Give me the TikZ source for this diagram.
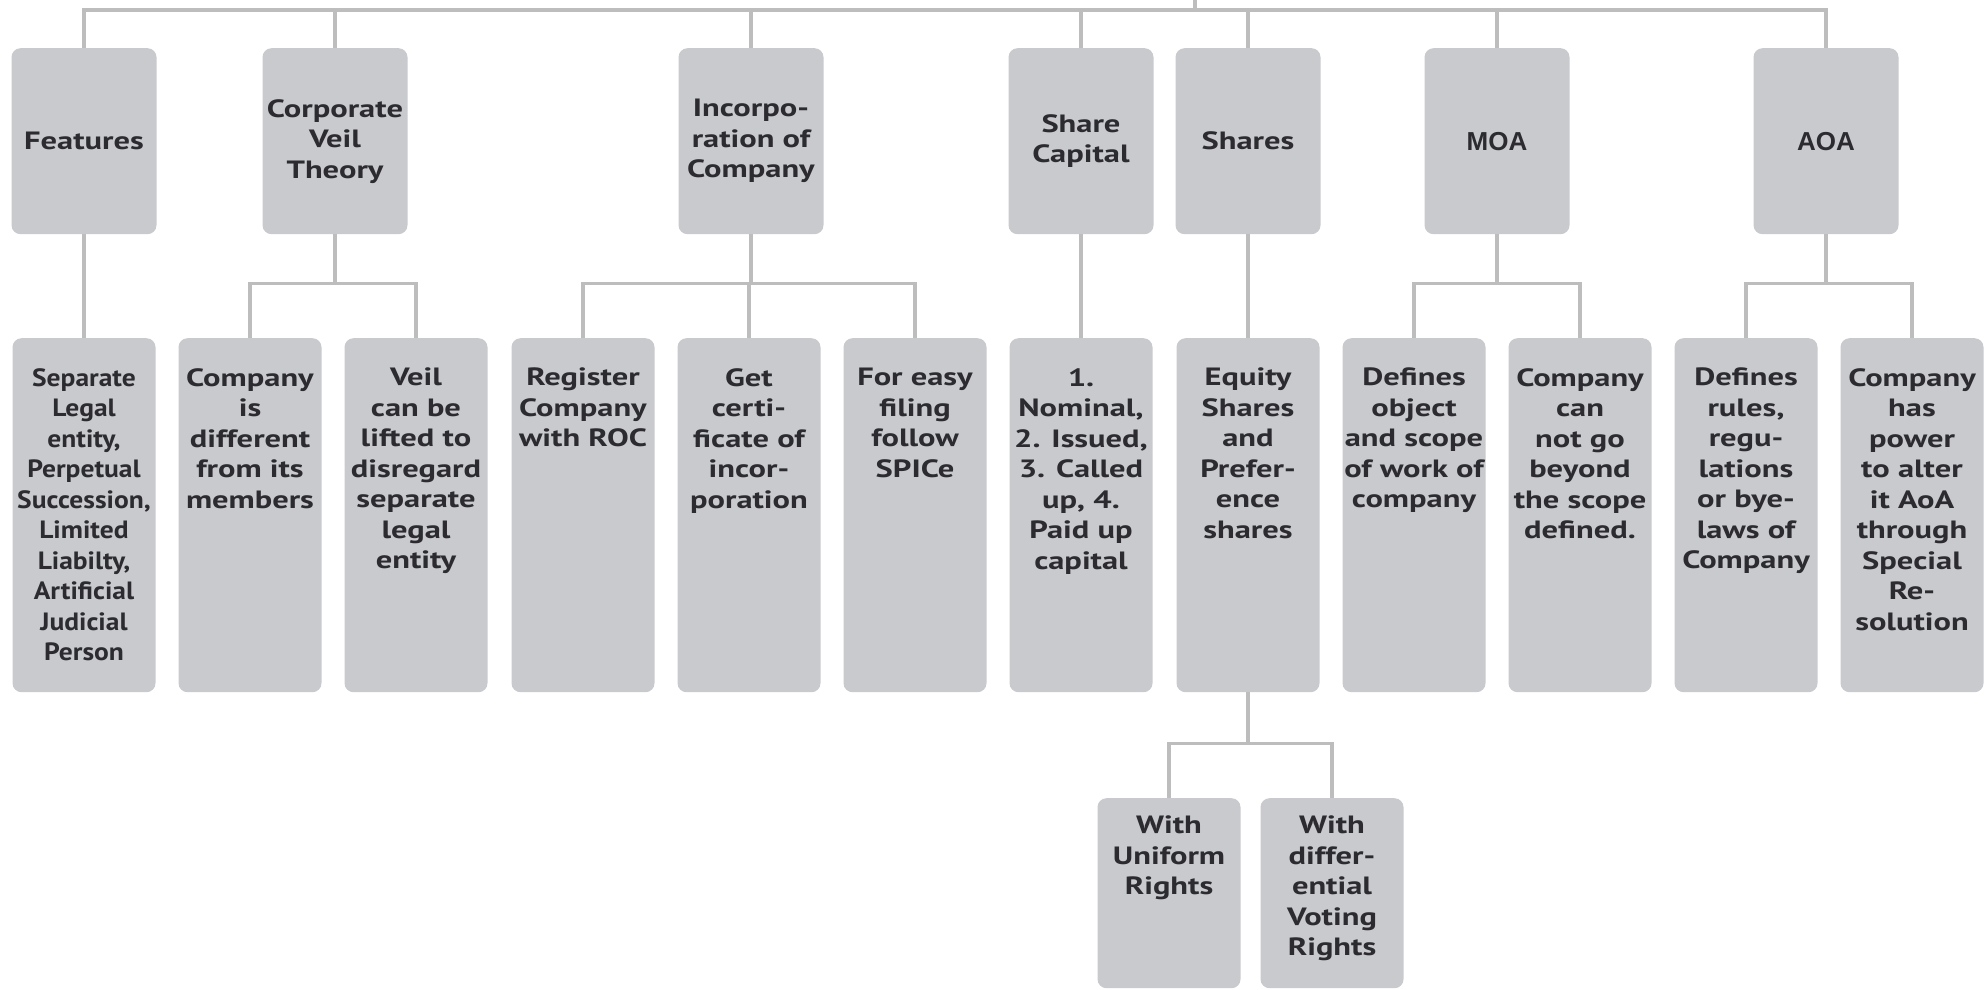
\documentclass[tikz,border=0pt]{standalone}
\usepackage{fontspec}
\newfontfamily\cardfont{PT Sans}[FakeStretch=1.3]
\newfontfamily\slimfont{PT Sans}[FakeStretch=1.1]
\newfontfamily\plainfont{Liberation Sans}
\usetikzlibrary{positioning}
\definecolor{cardgray}{HTML}{C9CACE}
\definecolor{wiregray}{HTML}{BDBDBD}
\definecolor{ink}{HTML}{2B2B30}
\tikzset{
  wire/.style={draw=wiregray,line width=3.2pt},
  card/.style={fill=cardgray,rounded corners=9pt,inner sep=0pt,anchor=north,text=ink,
    font=\cardfont\bfseries\fontsize{25}{30.5}\selectfont},
  head/.style={card,minimum width=145pt,minimum height=186pt,align=center},
  boxtext/.style 2 args={execute at begin node={\begin{minipage}[t][#1][t]{143pt}\vspace*{#2}\centering},
    execute at end node={\end{minipage}}},
  leaf/.style={card,boxtext={354pt}{30pt}},
  twig/.style={card,boxtext={190pt}{18pt}}}

\begin{document}
\begin{tikzpicture}[x=1pt,y=-1pt]
\useasboundingbox (0,0) rectangle (1984,990);
% headings
\node[head](feat)at(84,48){Features};
\node[head](veil)at(335,48){Corporate\\Veil\\Theory};
\node[head](inc)at(751,48){Incorpo-\\ration of\\Company};
\node[head](cap)at(1081,48){Share\\Capital};
\node[head](shr)at(1248,48){Shares};
\node[head,font=\plainfont\bfseries\fontsize{26}{30}\selectfont](moa)at(1497,48){MOA};
\node[head,font=\plainfont\bfseries\fontsize{26}{30}\selectfont](aoa)at(1826,48){AOA};
% second row
\node[leaf,font=\slimfont\bfseries\fontsize{25}{30.5}\selectfont](sep)at(84,338){Separate\\Legal\\entity,\\Perpetual\\Succession,\\Limited\\Liabilty,\\Artificial\\Judicial\\Person};
\node[leaf](diff)at(250,338){Company\\is\\different\\from its\\members};
\node[leaf](lift)at(416,338){Veil\\can be\\lifted to\\disregard\\separate\\legal\\entity};
\node[leaf](reg)at(583,338){Register\\Company\\with ROC};
\node[leaf](cert)at(749,338){Get\\certi-\\ficate of\\incor-\\poration};
\node[leaf](spice)at(915,338){For easy\\filing\\follow\\SPICe};
\node[leaf](kinds)at(1081,338){1.\\Nominal,\\2. Issued,\\3. Called\\up, 4.\\Paid up\\capital};
\node[leaf](eq)at(1248,338){Equity\\Shares\\and\\Prefer-\\ence\\shares};
\node[leaf](obj)at(1414,338){Defines\\object\\and scope\\of work of\\company};
\node[leaf](scope)at(1580,338){Company\\can\\not go\\beyond\\the scope\\defined.};
\node[leaf](rules)at(1746,338){Defines\\rules,\\regu-\\lations\\or bye-\\laws of\\Company};
\node[leaf](alter)at(1912,338){Company\\has\\power\\to alter\\it AoA\\through\\Special\\Re-\\solution};
% third row
\node[twig](unif)at(1169,798){With\\Uniform\\Rights};
\node[twig](vote)at(1332,798){With\\differ-\\ential\\Voting\\Rights};
% connectors
\coordinate(root)at(1195,0);
\foreach \n in {feat,veil,inc,cap,shr,moa,aoa}{\draw[wire](root)--++(0,10)-|(\n.north);}
\foreach \p/\c in {feat/sep,veil/diff,veil/lift,inc/reg,inc/cert,inc/spice,cap/kinds,shr/eq,moa/obj,moa/scope,aoa/rules,aoa/alter}{
  \draw[wire](\p.south)--++(0,49)-|(\c.north);}
\foreach \c in {unif,vote}{\draw[wire](eq.south)--++(0,51)-|(\c.north);}
\end{tikzpicture}
\end{document}
